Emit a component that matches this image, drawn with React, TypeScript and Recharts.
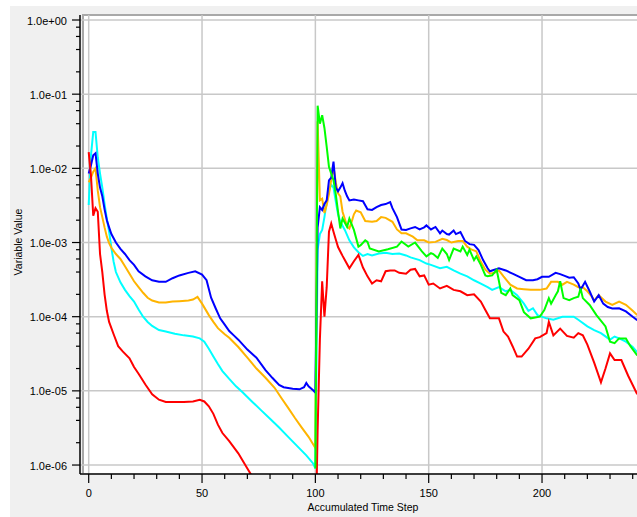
import { LineChart, Line, XAxis, YAxis, ReferenceLine } from 'recharts';

type Pt = [number, number];

const X_TICKS = [0, 10, 20, 30, 40, 50, 60, 70, 80, 90, 100, 110, 120, 130, 140, 150, 160, 170, 180, 190, 200, 210, 220, 230, 240];
const X_MAJOR = [0, 50, 100, 150, 200];
const Y_MAJOR = [1, 1e-1, 1e-2, 1e-3, 1e-4, 1e-5, 1e-6];
const Y_LABELS = ['1.0e+00', '1.0e-01', '1.0e-02', '1.0e-03', '1.0e-04', '1.0e-05', '1.0e-06'];
const Y_MINOR = [
  8e-1, 6e-1, 4e-1, 2e-1, 8e-2, 6e-2, 4e-2, 2e-2, 8e-3, 6e-3, 4e-3, 2e-3,
  8e-4, 6e-4, 4e-4, 2e-4, 8e-5, 6e-5, 4e-5, 2e-5, 8e-6, 6e-6, 4e-6, 2e-6,
];

const BLUE: Pt[] = [
  [0, 8.5e-3], [1, 1.1e-2], [2, 1.5e-2], [3, 1.6e-2], [4, 8.5e-3], [5, 5.5e-3], [6, 4.2e-3], [7, 2.8e-3],
  [8, 2.0e-3], [9, 1.6e-3], [10, 1.3e-3], [12, 1.0e-3], [14, 8.2e-4], [16, 7.0e-4], [18, 5.8e-4], [20, 5.0e-4],
  [22, 4.1e-4], [25, 3.5e-4], [28, 3.1e-4], [31, 2.95e-4], [34, 2.95e-4], [37, 3.3e-4], [40, 3.6e-4], [44, 3.9e-4],
  [47, 4.1e-4], [50, 3.7e-4], [52, 3.1e-4], [54, 1.8e-4], [56, 1.3e-4], [58, 9.5e-5], [60, 7.8e-5], [62, 6.4e-5],
  [64, 5.6e-5], [66, 4.9e-5], [70, 3.6e-5], [74, 2.8e-5], [78, 1.9e-5], [81, 1.5e-5], [84, 1.2e-5], [86, 1.12e-5],
  [90, 1.07e-5], [93, 1.05e-5], [95, 1.12e-5], [96, 1.28e-5], [97, 1.15e-5], [99, 1.02e-5], [100, 9.5e-6],
  [101, 1.6e-3], [102, 3.0e-3], [103, 2.75e-3], [104, 3.3e-3], [105, 3.7e-3], [106, 6.9e-3], [107, 7.5e-3],
  [108, 1.23e-2], [109, 5.5e-3], [110, 4.9e-3], [111, 5.5e-3], [112, 6.3e-3], [113, 5.0e-3], [114, 4.2e-3],
  [115, 3.7e-3], [117, 3.8e-3], [119, 3.7e-3], [121, 3.6e-3], [123, 2.8e-3], [125, 2.75e-3], [127, 3.0e-3],
  [129, 3.2e-3], [131, 3.3e-3], [133, 3.5e-3], [134, 2.9e-3], [136, 2.2e-3], [138, 1.5e-3], [140, 1.48e-3],
  [142, 1.55e-3], [144, 1.62e-3], [146, 1.5e-3], [148, 1.6e-3], [149, 1.7e-3], [151, 1.5e-3], [153, 1.62e-3],
  [155, 1.33e-3], [156, 1.45e-3], [158, 1.3e-3], [159, 1.28e-3], [161, 1.45e-3], [162, 1.3e-3], [164, 1.38e-3],
  [166, 1.05e-3], [168, 9.5e-4], [170, 9.3e-4], [172, 7.9e-4], [174, 5.8e-4], [176, 4.5e-4], [177, 4.1e-4],
  [179, 4.3e-4], [181, 4.5e-4], [184, 4.2e-4], [187, 3.8e-4], [190, 3.45e-4], [193, 3.1e-4], [196, 3.1e-4],
  [198, 3.2e-4], [200, 3.45e-4], [203, 3.45e-4], [206, 3.9e-4], [208, 3.75e-4], [210, 3.55e-4], [212, 3.35e-4],
  [214, 3.4e-4], [216, 2.8e-4], [217, 2.3e-4], [219, 2.95e-4], [221, 2.2e-4], [223, 1.6e-4], [225, 1.95e-4],
  [227, 1.5e-4], [229, 1.35e-4], [231, 1.29e-4], [234, 1.3e-4], [237, 1.18e-4], [240, 1.0e-4], [242, 9.0e-5],
];

const ORANGE: Pt[] = [
  [0, 6.5e-3], [1, 7.5e-3], [2, 9e-3], [3, 1e-2], [4, 5e-3], [5, 3e-3], [6, 2.2e-3], [7, 1.6e-3], [8, 1.2e-3],
  [9, 9.8e-4], [10, 8.5e-4], [12, 7e-4], [14, 6e-4], [16, 4.8e-4], [18, 3.8e-4], [20, 3e-4], [22, 2.5e-4],
  [24, 2.1e-4], [26, 1.8e-4], [28, 1.65e-4], [31, 1.55e-4], [34, 1.55e-4], [37, 1.6e-4], [40, 1.62e-4],
  [44, 1.65e-4], [46, 1.7e-4], [48, 1.85e-4], [50, 1.5e-4], [53, 1.05e-4], [55, 8.5e-5], [57, 7e-5],
  [60, 5.8e-5], [62, 5.2e-5], [66, 3.9e-5], [70, 2.8e-5], [74, 2e-5], [78, 1.5e-5], [82, 1.1e-5], [85, 8e-6],
  [88, 5.9e-6], [91, 4.3e-6], [94, 3.2e-6], [97, 2.4e-6], [100, 1.7e-6],
  [101, 4.3e-2], [102, 3.7e-3], [103, 3.9e-3], [104, 2.5e-3], [105, 3.2e-3], [106, 4.5e-3], [107, 7e-3],
  [108, 1.05e-2], [109, 6.5e-3], [110, 4.6e-3], [111, 4.2e-3], [112, 2.6e-3], [114, 1.65e-3], [115, 1.55e-3],
  [116, 1.9e-3], [117, 2.4e-3], [118, 2.7e-3], [120, 2.55e-3], [122, 1.95e-3], [125, 1.9e-3], [127, 1.95e-3],
  [129, 2.2e-3], [131, 2.15e-3], [134, 1.9e-3], [136, 1.5e-3], [138, 1.33e-3], [140, 1.33e-3], [143, 1.2e-3],
  [145, 1.07e-3], [148, 1.07e-3], [150, 1.0e-3], [153, 1.02e-3], [156, 1.12e-3], [158, 1.08e-3], [160, 1.0e-3],
  [163, 1.05e-3], [165, 1.05e-3], [167, 8.8e-4], [169, 8e-4], [171, 7.6e-4], [173, 5.5e-4], [175, 4.3e-4],
  [177, 3.8e-4], [179, 3.9e-4], [181, 4.2e-4], [183, 3.5e-4], [186, 2.7e-4], [189, 2.4e-4], [192, 2.35e-4],
  [195, 2.3e-4], [199, 2.3e-4], [202, 2.4e-4], [204, 2.95e-4], [207, 2.95e-4], [209, 2.7e-4], [211, 2.95e-4],
  [214, 2.7e-4], [216, 2.5e-4], [218, 2.5e-4], [220, 2.2e-4], [222, 1.86e-4], [223, 1.65e-4], [225, 1.95e-4],
  [228, 1.6e-4], [231, 1.44e-4], [234, 1.6e-4], [237, 1.45e-4], [240, 1.2e-4], [242, 1.05e-4],
];

const CYAN: Pt[] = [
  [0, 3.2e-3], [1, 1.5e-2], [2, 3.1e-2], [3, 3.1e-2], [4, 1.4e-2], [5, 8.5e-3], [6, 5.5e-3], [7, 3.3e-3],
  [8, 2.1e-3], [9, 1.4e-3], [10, 8.5e-4], [11, 5.5e-4], [12, 4.0e-4], [14, 2.9e-4], [16, 2.3e-4], [18, 1.9e-4],
  [20, 1.6e-4], [22, 1.25e-4], [24, 1.0e-4], [26, 8.5e-5], [28, 7.5e-5], [31, 6.6e-5], [34, 6.3e-5], [38, 5.9e-5],
  [42, 5.6e-5], [46, 5.4e-5], [49, 5.1e-5], [51, 4.6e-5], [53, 3.7e-5], [55, 2.9e-5], [57, 2.3e-5], [59, 1.85e-5],
  [62, 1.45e-5], [65, 1.15e-5], [68, 9.5e-6], [72, 7.2e-6], [76, 5.5e-6], [80, 4.2e-6], [84, 3.2e-6], [88, 2.4e-6],
  [92, 1.8e-6], [96, 1.35e-6], [99, 1.05e-6], [100, 9e-7],
  [101, 8e-4], [102, 1.3e-3], [103, 1.48e-3], [104, 2.2e-3], [105, 3.5e-3], [106, 5e-3], [107, 6e-3],
  [108, 5.5e-3], [109, 3.6e-3], [110, 2.4e-3], [111, 1.9e-3], [113, 1.48e-3], [115, 1.07e-3], [117, 8.6e-4],
  [119, 7.4e-4], [121, 6.6e-4], [123, 7e-4], [125, 6.7e-4], [128, 7.1e-4], [131, 7.3e-4], [134, 7e-4],
  [137, 7.1e-4], [140, 6.7e-4], [142, 6.3e-4], [146, 5.8e-4], [149, 5.2e-4], [151, 5e-4], [155, 4.5e-4],
  [158, 4.7e-4], [161, 4.2e-4], [164, 3.8e-4], [167, 3.5e-4], [170, 3.1e-4], [173, 2.8e-4], [176, 2.5e-4],
  [178, 2.3e-4], [181, 2.5e-4], [184, 2.2e-4], [186, 2.3e-4], [189, 1.95e-4], [192, 1.5e-4], [194, 1.2e-4],
  [196, 1.3e-4], [198, 1.05e-4], [202, 9.5e-5], [205, 9.1e-5], [209, 1.0e-4], [214, 1.0e-4], [216, 9.1e-5],
  [220, 7.4e-5], [223, 6.6e-5], [226, 6e-5], [230, 4.9e-5], [232, 5.4e-5], [234, 5.1e-5], [237, 4.6e-5],
  [240, 3.9e-5], [242, 3.3e-5],
];

const RED: Pt[] = [
  [0, 1.65e-2], [1, 8e-3], [2, 2.3e-3], [3, 2.9e-3], [4, 2.6e-3], [5, 7e-4], [6, 4e-4], [7, 2e-4], [8, 1.2e-4],
  [9, 8.5e-5], [11, 5.8e-5], [13, 4e-5], [15, 3.4e-5], [18, 2.75e-5], [20, 2.1e-5], [22, 1.7e-5], [25, 1.22e-5],
  [28, 9e-6], [31, 7.6e-6], [34, 7.1e-6], [38, 7.1e-6], [42, 7.1e-6], [46, 7.2e-6], [49, 7.6e-6], [51, 7.2e-6],
  [53, 6.2e-6], [55, 4.9e-6], [57, 3.5e-6], [59, 2.7e-6], [62, 2.1e-6], [66, 1.44e-6], [70, 9e-7], [75, 5e-7],
  [85, 2e-7], [95, 9e-8], [100, 6e-8],
  [101, 3e-6], [102, 5e-5], [103, 3e-4], [104, 1e-4], [105, 2.5e-4], [106, 1.4e-3], [107, 1.8e-3], [108, 1.4e-3],
  [109, 1.1e-3], [110, 8.7e-4], [112, 6.6e-4], [113, 5.8e-4], [115, 4.5e-4], [117, 5.6e-4], [119, 6.8e-4],
  [121, 4.6e-4], [123, 3.5e-4], [125, 2.8e-4], [127, 3.1e-4], [129, 3.0e-4], [131, 4.1e-4], [133, 4.2e-4],
  [135, 4.2e-4], [137, 3.9e-4], [140, 3.8e-4], [142, 4.3e-4], [144, 4.4e-4], [146, 3.5e-4], [148, 3.6e-4],
  [150, 2.7e-4], [152, 2.8e-4], [155, 2.4e-4], [158, 2.6e-4], [161, 2.3e-4], [164, 2.2e-4], [167, 1.95e-4],
  [170, 2.0e-4], [173, 1.6e-4], [175, 1.23e-4], [177, 9.5e-5], [181, 9.5e-5], [183, 6.3e-5], [185, 5.4e-5],
  [187, 4e-5], [189, 2.9e-5], [191, 2.9e-5], [194, 3.7e-5], [197, 5.1e-5], [199, 5.3e-5], [202, 6e-5],
  [203, 8.5e-5], [205, 5.6e-5], [208, 6.9e-5], [211, 5.5e-5], [214, 5.2e-5], [216, 6e-5], [218, 5.6e-5],
  [220, 4.2e-5], [223, 2.4e-5], [226, 1.3e-5], [228, 2e-5], [230, 3.2e-5], [232, 2.6e-5], [235, 2.6e-5],
  [238, 1.6e-5], [240, 1.2e-5], [242, 9e-6],
];

const GREEN: Pt[] = [
  [100, 9e-7], [101, 7e-2], [102, 4e-2], [103, 5.2e-2], [104, 3.5e-2], [105, 1.95e-2], [106, 1.05e-2],
  [107, 8.5e-3], [108, 6.9e-3], [109, 4.5e-3], [110, 2.6e-3], [111, 1.55e-3], [112, 2.1e-3], [114, 1.63e-3],
  [115, 2.1e-3], [117, 1.48e-3], [119, 8.8e-4], [120, 9.2e-4], [122, 1.07e-3], [123, 1.02e-3], [124, 8.3e-4],
  [128, 7.6e-4], [132, 8.1e-4], [136, 8.8e-4], [138, 1.03e-3], [141, 8.8e-4], [144, 1.0e-3], [147, 7.6e-4],
  [149, 6.5e-4], [151, 7.2e-4], [152, 7e-4], [154, 6.2e-4], [156, 8.3e-4], [158, 7e-4], [159, 5.8e-4],
  [161, 8.3e-4], [164, 7.6e-4], [165, 8.8e-4], [167, 6.8e-4], [168, 8e-4], [170, 5.8e-4], [171, 6.5e-4],
  [173, 5e-4], [175, 3.6e-4], [176, 3.5e-4], [178, 3.6e-4], [180, 4.3e-4], [182, 2.1e-4], [184, 1.95e-4],
  [186, 2.4e-4], [187, 1.95e-4], [190, 1.67e-4], [192, 1.15e-4], [195, 9.5e-5], [199, 1.0e-4], [201, 1.23e-4],
  [203, 1.78e-4], [204, 1.5e-4], [206, 1.95e-4], [207, 2.2e-4], [208, 3e-4], [209.5, 1.78e-4], [212, 1.67e-4],
  [214, 1.78e-4], [216, 1.86e-4], [217, 2.4e-4], [218, 1.78e-4], [221, 1.44e-4], [224, 1.05e-4], [228, 7.4e-5],
  [230, 4.6e-5], [232, 4.4e-5], [234, 5.1e-5], [237, 5.1e-5], [239, 4e-5], [242, 3e-5],
];

const SERIES = [
  { name: 'cyan', color: '#00ffff', points: CYAN },
  { name: 'orange', color: '#ffb400', points: ORANGE },
  { name: 'blue', color: '#0000ff', points: BLUE },
  { name: 'red', color: '#ff0000', points: RED },
  { name: 'green', color: '#00ff00', points: GREEN },
];

const toRows = (pts: Pt[]) => pts.map(([x, y]) => ({ x, y }));

const FONT = '"Liberation Sans", Arial, sans-serif';

function XTick({ x, y, payload }: any) {
  const major = X_MAJOR.includes(payload.value);
  return (
    <g>
      <line x1={x} x2={x} y1={y} y2={y + (major ? 9 : 5)} stroke="#000" strokeWidth={1.2} />
      {major && (
        <text x={x} y={y + 23} textAnchor="middle" fontSize={11} fontFamily={FONT} fill="#000">
          {payload.value}
        </text>
      )}
    </g>
  );
}

function YTick({ x, y, payload }: any) {
  const i = Y_MAJOR.indexOf(payload.value);
  const major = i >= 0;
  return (
    <g>
      <line x1={x - (major ? 8 : 4)} x2={x} y1={y} y2={y} stroke="#000" strokeWidth={1.2} />
      {major && (
        <text x={x - 13} y={y + 4.5} textAnchor="end" fontSize={11} fontFamily={FONT} fill="#000">
          {Y_LABELS[i]}
        </text>
      )}
    </g>
  );
}

export default function App() {
  return (
    <div style={{ position: 'absolute', left: 10, top: 6, width: 627, height: 511, background: '#f0f0f0', overflow: 'hidden' }}>
      <div
        style={{
          position: 'absolute', left: 72, top: 8, width: 556, height: 457, background: '#fff',
          borderLeft: '2px solid #a8a8a8', borderTop: '2px solid #a8a8a8',
        }}
      />
      <div style={{ position: 'absolute', left: 0, top: 0 }}>
        <LineChart width={627} height={511} margin={{ top: 9, right: 0, bottom: 0, left: 0 }}>
          <XAxis
            dataKey="x" type="number" domain={[-3.84, 241.9]} allowDataOverflow
            ticks={X_TICKS} interval={0} tickSize={0} tickMargin={0} tick={<XTick />}
            height={43} stroke="#000" strokeWidth={1.5}
          />
          <YAxis
            type="number" scale="log" domain={[7.57e-7, 1.168]} allowDataOverflow
            ticks={[...Y_MAJOR, ...Y_MINOR]} interval={0} tickSize={0} tickMargin={0} tick={<YTick />}
            width={70} stroke="#000" strokeWidth={1.5}
          />
          {X_MAJOR.map((v) => (
            <ReferenceLine key={'gx' + v} x={v} stroke="#c8c8c8" strokeWidth={1.5} />
          ))}
          {Y_MAJOR.map((v) => (
            <ReferenceLine key={'gy' + v} y={v} stroke="#c8c8c8" strokeWidth={1.5} />
          ))}
          {SERIES.map((s) => (
            <Line
              key={s.name} data={toRows(s.points)} dataKey="y" type="linear" stroke={s.color}
              strokeWidth={2} dot={false} activeDot={false} isAnimationActive={false}
            />
          ))}
        </LineChart>
      </div>
      <div
        style={{
          position: 'absolute', left: 353, top: 495, transform: 'translateX(-50%)', whiteSpace: 'nowrap',
          fontFamily: FONT, fontSize: 10.5, lineHeight: '12px', color: '#000',
        }}
      >
        Accumulated Time Step
      </div>
      <div
        style={{
          position: 'absolute', left: 8, top: 236, transform: 'translate(-50%, -50%) rotate(-90deg)', whiteSpace: 'nowrap',
          fontFamily: FONT, fontSize: 10.5, lineHeight: '12px', color: '#000',
        }}
      >
        Variable Value
      </div>
    </div>
  );
}
